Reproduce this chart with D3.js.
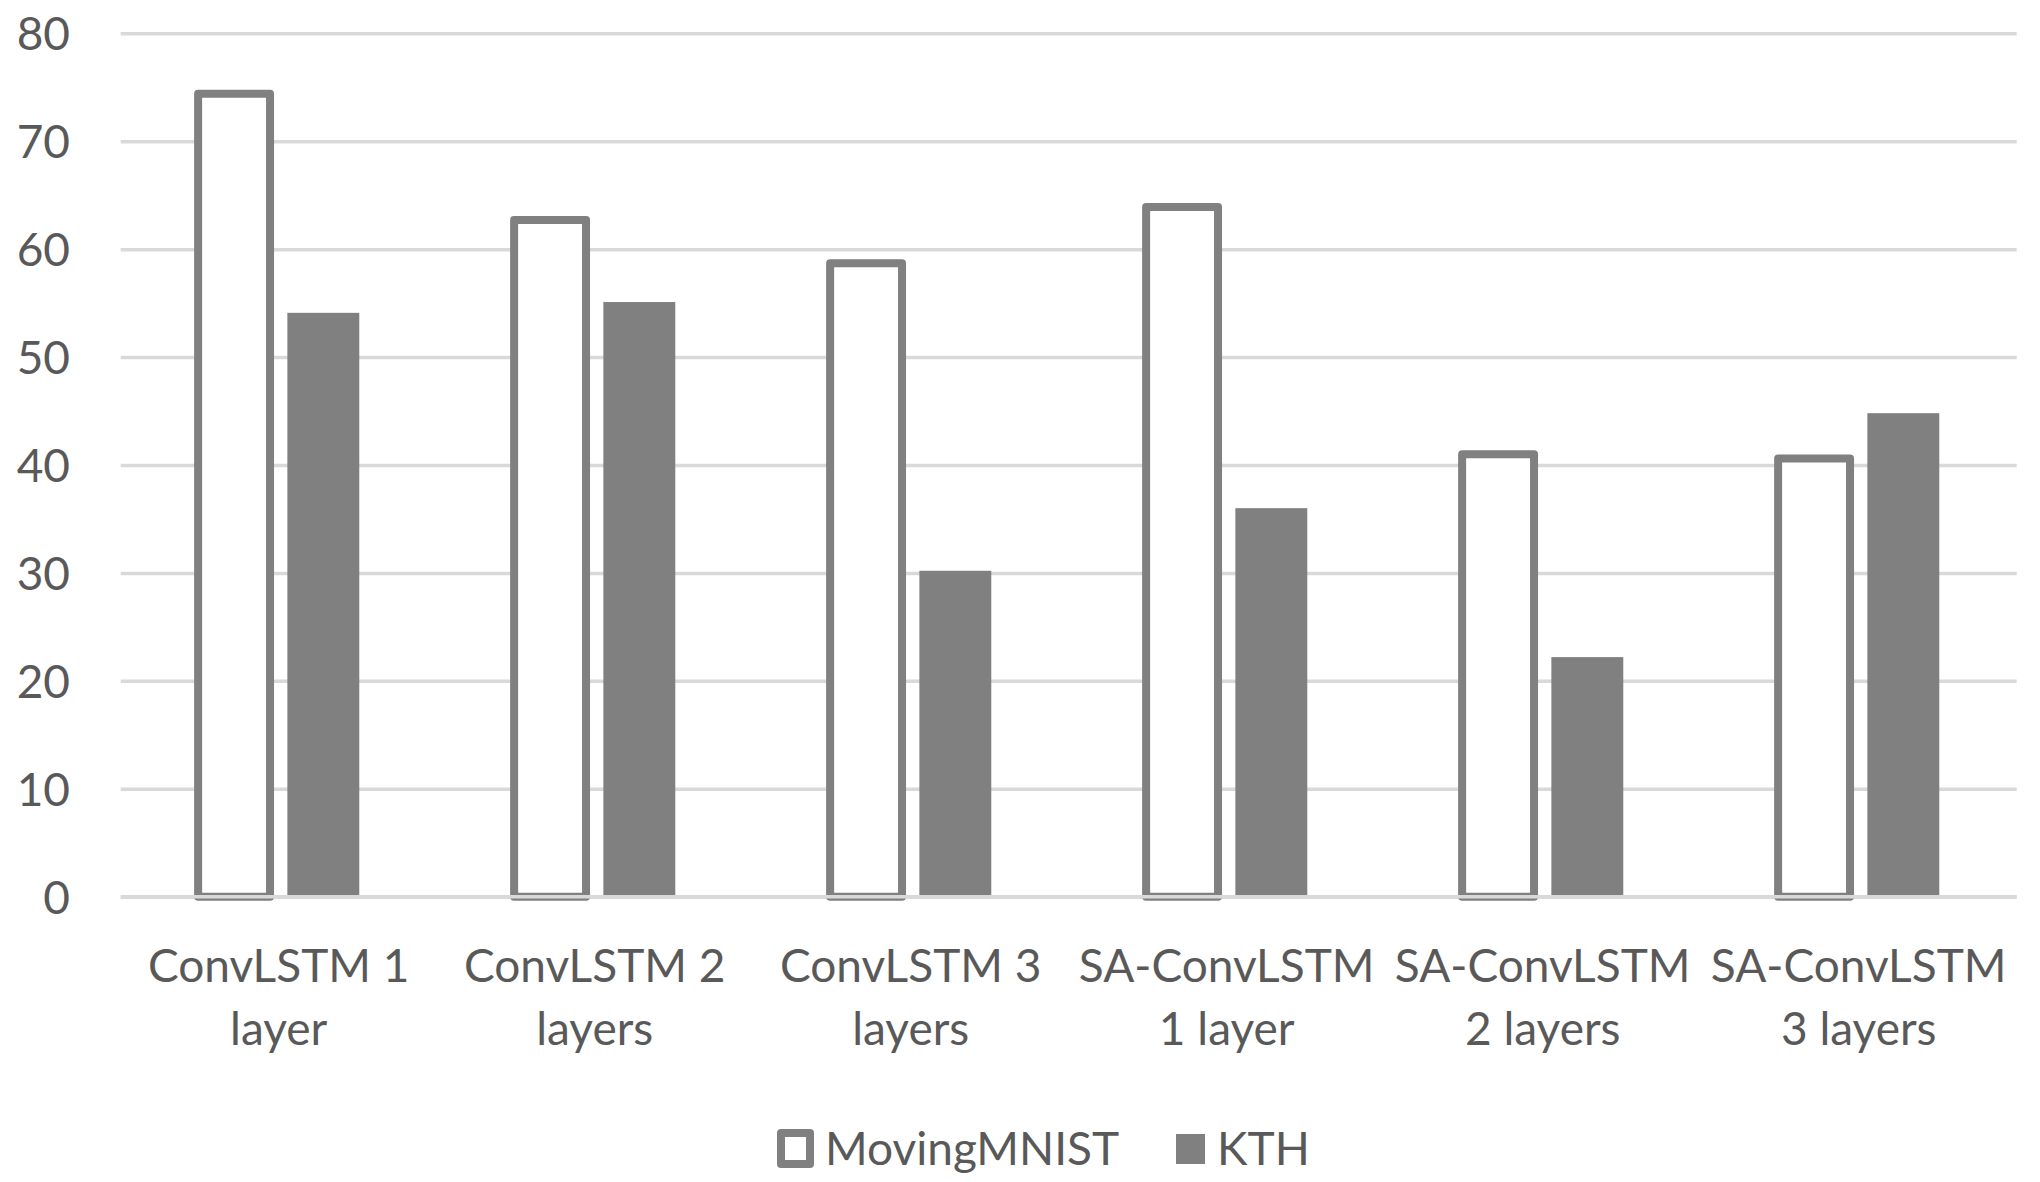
<!DOCTYPE html>
<html>
<head>
<meta charset="utf-8">
<script src="https://cdn.jsdelivr.net/npm/d3@7"></script>
<style>
  html, body { margin: 0; padding: 0; background: #ffffff; }
  svg { display: block; }
  text { font-family: Lato, "Open Sans", sans-serif; fill: #595959; }
</style>
</head>
<body>
<svg id="chart" width="2040" height="1182"></svg>
<script>
const categories = [
  ["ConvLSTM 1", "layer"],
  ["ConvLSTM 2", "layers"],
  ["ConvLSTM 3", "layers"],
  ["SA-ConvLSTM", "1 layer"],
  ["SA-ConvLSTM", "2 layers"],
  ["SA-ConvLSTM", "3 layers"]
];
const seriesNames = ["MovingMNIST", "KTH"];
const movingMNIST = [74.4, 62.7, 58.7, 63.9, 41.0, 40.6];
const kth = [54.1, 55.1, 30.2, 36.0, 22.2, 44.8];
const yTicks = [0, 10, 20, 30, 40, 50, 60, 70, 80];

(function () {
const plotL = 120.7, plotR = 2016.7, plotT = 33.3, plotB = 896.7;
const gray = "#7f807f", gridColor = "#d9d9d9";
const fs = "46px";

const svg = d3.select("#chart");
const catIds = categories.map((c, i) => i);

const x0 = d3.scaleBand().domain(catIds).range([plotL, plotR]).padding(0);
const bw = x0.bandwidth();
const clusterW = bw * 0.51;
const x1 = d3.scaleBand().domain(seriesNames)
  .range([(bw - clusterW) / 2, (bw + clusterW) / 2])
  .paddingInner(0.194).paddingOuter(0);
const y = d3.scaleLinear().domain([0, 80]).range([plotB, plotT]);

// gridlines + tick labels
const yAxis = d3.axisLeft(y).tickValues(yTicks).tickSize(-(plotR - plotL)).tickPadding(0).tickFormat(d3.format("d"));
const gAxis = svg.append("g").attr("transform", `translate(${plotL},0)`).call(yAxis);
gAxis.select(".domain").remove();
gAxis.selectAll(".tick line").attr("stroke", gridColor).attr("stroke-width", 3.5);
gAxis.selectAll(".tick text")
  .attr("x", 70 - plotL)
  .attr("dy", "0.36em")
  .attr("text-anchor", "end")
  .style("font-size", fs)
  .style("font-family", "Lato, 'Open Sans', sans-serif")
  .attr("fill", "#595959");

// bars
const data = catIds.map(i => ({ i, values: [
  { s: "MovingMNIST", v: movingMNIST[i] },
  { s: "KTH", v: kth[i] }
]}));

const groups = svg.append("g").selectAll("g").data(data).join("g")
  .attr("transform", d => `translate(${x0(d.i)},0)`);

groups.selectAll("rect").data(d => d.values).join("rect")
  .attr("x", d => x1(d.s))
  .attr("width", x1.bandwidth())
  .attr("y", d => y(d.v))
  .attr("height", d => y(0) - y(d.v))
  .attr("fill", d => d.s === "KTH" ? gray : "#ffffff")
  .attr("stroke", d => d.s === "KTH" ? "none" : gray)
  .attr("stroke-width", 8)
  .attr("stroke-linejoin", "round");

// x axis line on top
svg.append("line")
  .attr("x1", plotL).attr("x2", plotR)
  .attr("y1", y(0)).attr("y2", y(0))
  .attr("stroke", gridColor).attr("stroke-width", 3.5);

// x labels
const xl = svg.append("g").selectAll("text").data(categories).join("text")
  .attr("x", (d, i) => x0(i) + bw / 2)
  .attr("y", 982)
  .attr("text-anchor", "middle")
  .style("font-size", fs);
xl.selectAll("tspan").data(d => d).join("tspan")
  .attr("x", function () { return d3.select(this.parentNode).attr("x"); })
  .attr("dy", (d, j) => j === 0 ? 0 : 63)
  .text(d => d);

// legend
const leg = svg.append("g");
leg.append("rect").attr("x", 781).attr("y", 1133).attr("width", 29).attr("height", 31)
  .attr("fill", "#fff").attr("stroke", gray).attr("stroke-width", 8).attr("stroke-linejoin", "round");
leg.append("text").attr("x", 825).attr("y", 1165).style("font-size", fs).text(seriesNames[0]);
leg.append("rect").attr("x", 1176).attr("y", 1134).attr("width", 29).attr("height", 30).attr("fill", gray);
leg.append("text").attr("x", 1217).attr("y", 1165).style("font-size", fs).text(seriesNames[1]);
})();
</script>
</body>
</html>
